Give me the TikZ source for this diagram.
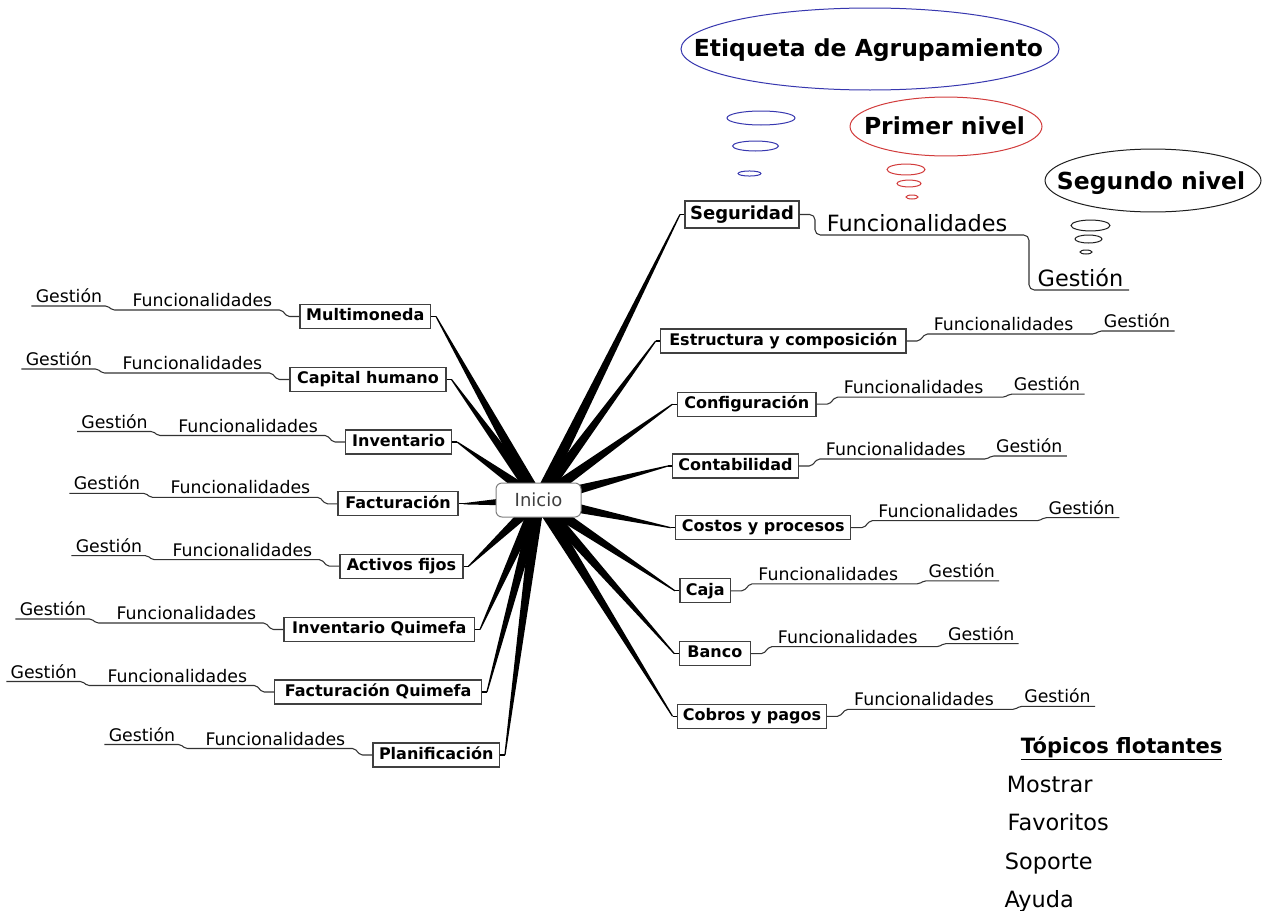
\documentclass[tikz,border=0pt]{standalone}
\usepackage{fontspec}
\setmainfont{DejaVu Sans}
\usetikzlibrary{calc}
\pgfdeclarelayer{back}
\pgfdeclarelayer{bg}
\pgfsetlayers{back,bg,main}
\definecolor{ebl}{RGB}{55,55,175}
\definecolor{erd}{RGB}{210,60,60}
\definecolor{ebk}{RGB}{30,30,30}
\newcommand\lbranch[1]{%
  \draw[sub] (#1.west) -- ++(-12,0) -- ++(-6,-6.5) -- ++(-169,0) -- ++(-5,-4) -- ++(-76,0) coordinate (#1-end);
  \node[lbl,anchor=base] (#1-f) at ($(#1.west)+(-97,-10)$) {Funcionalidades};
  \node[lbl,anchor=base] (#1-g) at ($(#1.west)+(-230.5,-14)$) {Gestión};}
\newcommand\rbranch[1]{%
  \draw[sub] (#1.east) -- ++(12.5,0) -- ++(6.5,-7) -- ++(169,0) -- ++(5,-3) -- ++(75,0) coordinate (#1-end);
  \node[lbl,anchor=base] (#1-f) at ($(#1.east)+(97,-10.5)$) {Funcionalidades};
  \node[lbl,anchor=base] (#1-g) at ($(#1.east)+(230.5,-13.5)$) {Gestión};}
\newcommand\spoke[1]{%
  \fill ($(inicio.center)!4.6pt!90:(t#1)$) -- ($(t#1)!0.45pt!-90:(inicio.center)$)
     -- ($(t#1)!0.45pt!90:(inicio.center)$) -- ($(inicio.center)!4.6pt!-90:(t#1)$) -- cycle;}
\begin{document}
\begin{tikzpicture}[x=0.75pt,y=-0.75pt,
  box/.style={draw=black!75, fill=white, line width=0.8pt, inner xsep=1pt, inner ysep=0pt,
    minimum height=18pt, text height=9pt, text depth=2.6pt,
    font=\fontsize{12}{14}\selectfont\bfseries, minimum width={#1*0.75pt}},
  lbl/.style={inner sep=0pt, font=\fontsize{13}{15}\selectfont},
  biglbl/.style={inner sep=0pt, font=\fontsize{16.8}{19}\selectfont},
  head/.style={inner sep=0pt, font=\fontsize{17.6}{20}\selectfont\bfseries},
  sub/.style={draw=black!80, line width=0.8pt, rounded corners=1.5pt},
  stub/.style={draw=black, line width=0.8pt},
  bubble/.style={line width=0.75pt}]
\useasboundingbox (0,0) rectangle (1266,910);
\begin{pgfonlayer}{back}
  \fill[white] (0,0) rectangle (1266,910);
\end{pgfonlayer}

% ---- thought bubbles
\draw[bubble,draw=ebl] (870,49) ellipse [x radius=141.75pt, y radius=30.75pt];
\node[head,anchor=base] (etiq) at (868.5,56.5) {Etiqueta de Agrupamiento};
\draw[bubble,draw=ebl] (761,118) ellipse [x radius=25.5pt, y radius=5.25pt];
\draw[bubble,draw=ebl] (755.5,146) ellipse [x radius=17.25pt, y radius=3.75pt];
\draw[bubble,draw=ebl] (749.5,173.5) ellipse [x radius=8.6pt, y radius=1.9pt];

\draw[bubble,draw=erd] (946,126.5) ellipse [x radius=72pt, y radius=22.1pt];
\node[head,anchor=base] (primer) at (944.5,134) {Primer nivel};
\draw[bubble,draw=erd] (906,169.5) ellipse [x radius=14.25pt, y radius=4.1pt];
\draw[bubble,draw=erd] (909,183.5) ellipse [x radius=9pt, y radius=2.6pt];
\draw[bubble,draw=erd] (912,197) ellipse [x radius=4.5pt, y radius=1.5pt];

\draw[bubble,draw=ebk] (1153,180.5) ellipse [x radius=81pt, y radius=23.6pt];
\node[head,anchor=base] (segundo) at (1151,189) {Segundo nivel};
\draw[bubble,draw=ebk] (1090.5,225.5) ellipse [x radius=14.6pt, y radius=4.1pt];
\draw[bubble,draw=ebk] (1088.5,239) ellipse [x radius=10.1pt, y radius=3pt];
\draw[bubble,draw=ebk] (1086,252) ellipse [x radius=4.5pt, y radius=1.5pt];

% ---- central topic
\node[draw=black!50, fill=white, rounded corners=4.5pt, line width=0.75pt,
  minimum width=63.75pt, minimum height=25.5pt, inner sep=0pt, text=black!75,
  font=\fontsize{13.5}{16}\selectfont] (inicio) at (538.5,500) {Inicio};

% ---- left topics
\node[box=130.5] (multi)   at (365.25,316.5) {Multimoneda};
\node[box=156]   (capital) at (368,379.5)    {Capital humano};
\node[box=106]   (inven)   at (398.6,442)    {Inventario};
\node[box=120]   (factu)   at (398,503.8)    {Facturación};
\node[box=123]   (activos) at (401.5,566.2)  {Activos fijos};
\node[box=190.5] (invq)    at (379.25,629.5) {Inventario Quimefa};
\node[box=206.6] (factq)   at (378.1,692)    {Facturación Quimefa};
\node[box=126.4] (planif)  at (436.2,755)    {Planificación};

% ---- right topics
\node[box=114, minimum height=20.25pt, text height=10pt, text depth=2.9pt,
  font=\fontsize{13.5}{16}\selectfont\bfseries] (seg) at (742,214.5) {Seguridad};
\node[box=245.3] (estr)   at (783.35,341)  {Estructura y composición};
\node[box=138.5] (config) at (746.75,404.2) {Configuración};
\node[box=125.3] (contab) at (735.55,466)  {Contabilidad};
\node[box=175]   (costos) at (763.2,527.7) {Costos y procesos};
\node[box=50.7]  (caja)   at (705.35,590.8) {Caja};
\node[box=70.8]  (banco)  at (714.8,653.7) {Banco};
\node[box=148.9] (cobros) at (752,716.3)   {Cobros y pagos};

% ---- tip points of the tapered spokes
\foreach \n in {multi,capital,inven,factu,activos,invq,factq,planif}
  {\coordinate (t\n) at ($(\n.east)+(5,0)$);
   \draw[stub] (t\n) -- (\n.east);}
\foreach \n in {seg,estr,config,contab,costos,caja,banco,cobros}
  {\coordinate (t\n) at ($(\n.west)+(-4.5,0)$);
   \draw[stub] (t\n) -- (\n.west);}

\begin{pgfonlayer}{bg}
  \foreach \n in {multi,capital,inven,factu,activos,invq,factq,planif,
                  seg,estr,config,contab,costos,caja,banco,cobros}
    {\spoke{\n}}
\end{pgfonlayer}

% ---- sub-branches
\foreach \n in {multi,capital,inven,factu,activos,invq,factq,planif} {\lbranch{\n}}
\foreach \n in {estr,config,contab,costos,caja,banco,cobros} {\rbranch{\n}}

\draw[sub, rounded corners=4pt] (seg.east) -- (815,214.5) -- (815,235) -- (1029,235)
  -- (1029,290) -- (1129,290) coordinate (seg-end);
\node[biglbl,anchor=base] (seg-f) at (917,231) {Funcionalidades};
\node[biglbl,anchor=base] (seg-g) at (1080.5,286) {Gestión};

% ---- floating topics
\node[inner sep=0pt, font=\fontsize{15.8}{18}\selectfont\bfseries, anchor=base] (topicos)
  at (1121.7,753.3) {\underline{Tópicos flotantes}};
\node[biglbl, anchor=base west] (mostrar)   at (1006.6,792.3) {Mostrar};
\node[biglbl, anchor=base west] (favoritos) at (1007.4,830.6) {Favoritos};
\node[biglbl, anchor=base west] (soporte)   at (1004.7,869)   {Soporte};
\node[biglbl, anchor=base west] (ayuda)     at (1004.3,907)   {Ayuda};
\end{tikzpicture}
\end{document}
